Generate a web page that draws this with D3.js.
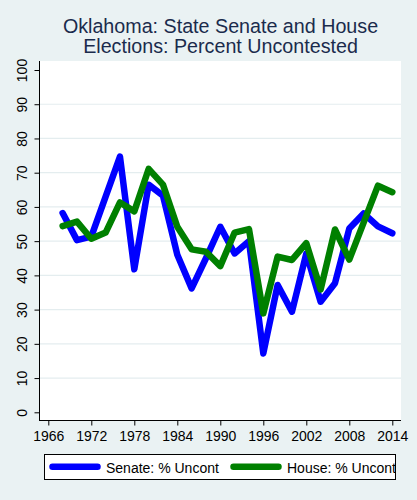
<!DOCTYPE html>
<html lang="en">
<head>
<meta charset="utf-8">
<title>Oklahoma uncontested</title>
<script src="https://cdn.jsdelivr.net/npm/d3@7"></script>
<style>
  body { margin: 0; background: #eaf2f3; }
  svg { display: block; }
  text { font-family: "Liberation Sans", Arial, sans-serif; }
</style>
</head>
<body>
<script>
// data
var years = [1968, 1970, 1972, 1974, 1976, 1978, 1980, 1982, 1984, 1986, 1988, 1990,
             1992, 1994, 1996, 1998, 2000, 2002, 2004, 2006, 2008, 2010, 2012, 2014];
var senate = [58.2, 50.3, 51.3, 63, 74.7, 41.8, 66.5, 63.3, 46, 36.2, 45, 54.2,
              46.4, 50, 17.2, 37.2, 29.4, 46.4, 32.3, 37.7, 53.7, 58.1, 54.3, 52.3];
var house = [54.4, 55.7, 50.7, 52.5, 61.3, 58.7, 71.1, 66.5, 54.2, 47.6, 46.9, 42.7,
             52.5, 53.5, 28.9, 45.5, 44.5, 49.4, 35.9, 53.4, 44.6, 55.4, 66.2, 64.3];
var xTicks = [1966, 1972, 1978, 1984, 1990, 1996, 2002, 2008, 2014];
var yTicks = [0, 10, 20, 30, 40, 50, 60, 70, 80, 90, 100];
var legendLabels = ["Senate: % Uncont", "House: % Uncont"];
var colors = ["#0000ff", "#008000"];

var w = 417, h = 500;
var plot = {left: 39.5, right: 401, top: 61, bottom: 420.5};

var svg = d3.select("body").append("svg")
    .attr("width", w)
    .attr("height", h);

svg.append("rect").attr("width", w).attr("height", h).attr("fill", "#eaf2f3");

// title
var title = svg.append("text")
    .attr("text-anchor", "middle")
    .attr("font-size", "19.7px")
    .attr("fill", "#1a2b4c");
title.append("tspan").attr("x", 220.5).attr("y", 33.3).text("Oklahoma: State Senate and House");
title.append("tspan").attr("x", 220.5).attr("y", 53.3).text("Elections: Percent Uncontested");

// plot area
svg.append("rect")
    .attr("x", plot.left)
    .attr("y", plot.top)
    .attr("width", plot.right - plot.left)
    .attr("height", plot.bottom - plot.top)
    .attr("fill", "#ffffff");

var x = d3.scaleLinear().domain([1966, 2014]).range([48.3, 392.3]);
var y = d3.scaleLinear().domain([0, 100]).range([412.3, 70]);

// gridlines
svg.append("g").selectAll("line")
    .data(yTicks.filter(function(d) { return d > 0 && d < 100; }))
    .enter().append("line")
    .attr("x1", plot.left)
    .attr("x2", plot.right)
    .attr("y1", function(d) { return y(d); })
    .attr("y2", function(d) { return y(d); })
    .attr("stroke", "#e4edef")
    .attr("stroke-width", 1.2);

// axes
var yAxis = d3.axisLeft(y).tickValues(yTicks).tickSize(5);
var gy = svg.append("g")
    .attr("transform", "translate(" + plot.left + ",0)")
    .call(yAxis);
gy.select(".domain").remove();
gy.selectAll("text")
    .attr("font-size", "14px")
    .attr("fill", "#000")
    .attr("x", 0)
    .attr("y", 0)
    .attr("dy", null)
    .attr("text-anchor", "middle")
    .attr("transform", "translate(-12.8,0) rotate(-90)");

var xAxis = d3.axisBottom(x).tickValues(xTicks).tickFormat(d3.format("d")).tickSize(5).tickPadding(6);
var gx = svg.append("g")
    .attr("transform", "translate(0," + plot.bottom + ")")
    .call(xAxis);
gx.select(".domain").remove();
gx.selectAll("text").attr("font-size", "14px").attr("fill", "#000");
gx.selectAll("line").attr("stroke", "#000");
gy.selectAll("line").attr("stroke", "#000");

svg.append("line")
    .attr("x1", plot.left).attr("x2", plot.left)
    .attr("y1", plot.top).attr("y2", plot.bottom + 0.5)
    .attr("stroke", "#000").attr("stroke-width", 1);
svg.append("line")
    .attr("x1", plot.left).attr("x2", plot.right)
    .attr("y1", plot.bottom).attr("y2", plot.bottom)
    .attr("stroke", "#000").attr("stroke-width", 1);

// lines
var line = d3.line()
    .x(function(d) { return x(d[0]); })
    .y(function(d) { return y(d[1]); });

[senate, house].forEach(function(series, i) {
  svg.append("path")
      .datum(d3.zip(years, series))
      .attr("d", line)
      .attr("fill", "none")
      .attr("stroke", colors[i])
      .attr("stroke-width", 6.5)
      .attr("stroke-linejoin", "round")
      .attr("stroke-linecap", "round");
});

// legend
svg.append("clipPath").attr("id", "legclip")
  .append("rect")
    .attr("x", 44.5).attr("y", 454.5)
    .attr("width", 351).attr("height", 25);

svg.append("rect")
    .attr("x", 44.5).attr("y", 454.5)
    .attr("width", 351).attr("height", 25)
    .attr("fill", "#fff").attr("stroke", "#000").attr("stroke-width", 1);

var legX = [52.5, 233.5];
var leg = svg.append("g").attr("clip-path", "url(#legclip)");
legendLabels.forEach(function(lab, i) {
  leg.append("line")
      .attr("x1", legX[i]).attr("x2", legX[i] + 45)
      .attr("y1", 466.7).attr("y2", 466.7)
      .attr("stroke", colors[i])
      .attr("stroke-width", 6.5)
      .attr("stroke-linecap", "round");
  leg.append("text")
      .attr("x", legX[i] + 53.5)
      .attr("y", 473.3)
      .attr("font-size", "14px")
      .attr("fill", "#000")
      .text(lab);
});
</script>
</body>
</html>
